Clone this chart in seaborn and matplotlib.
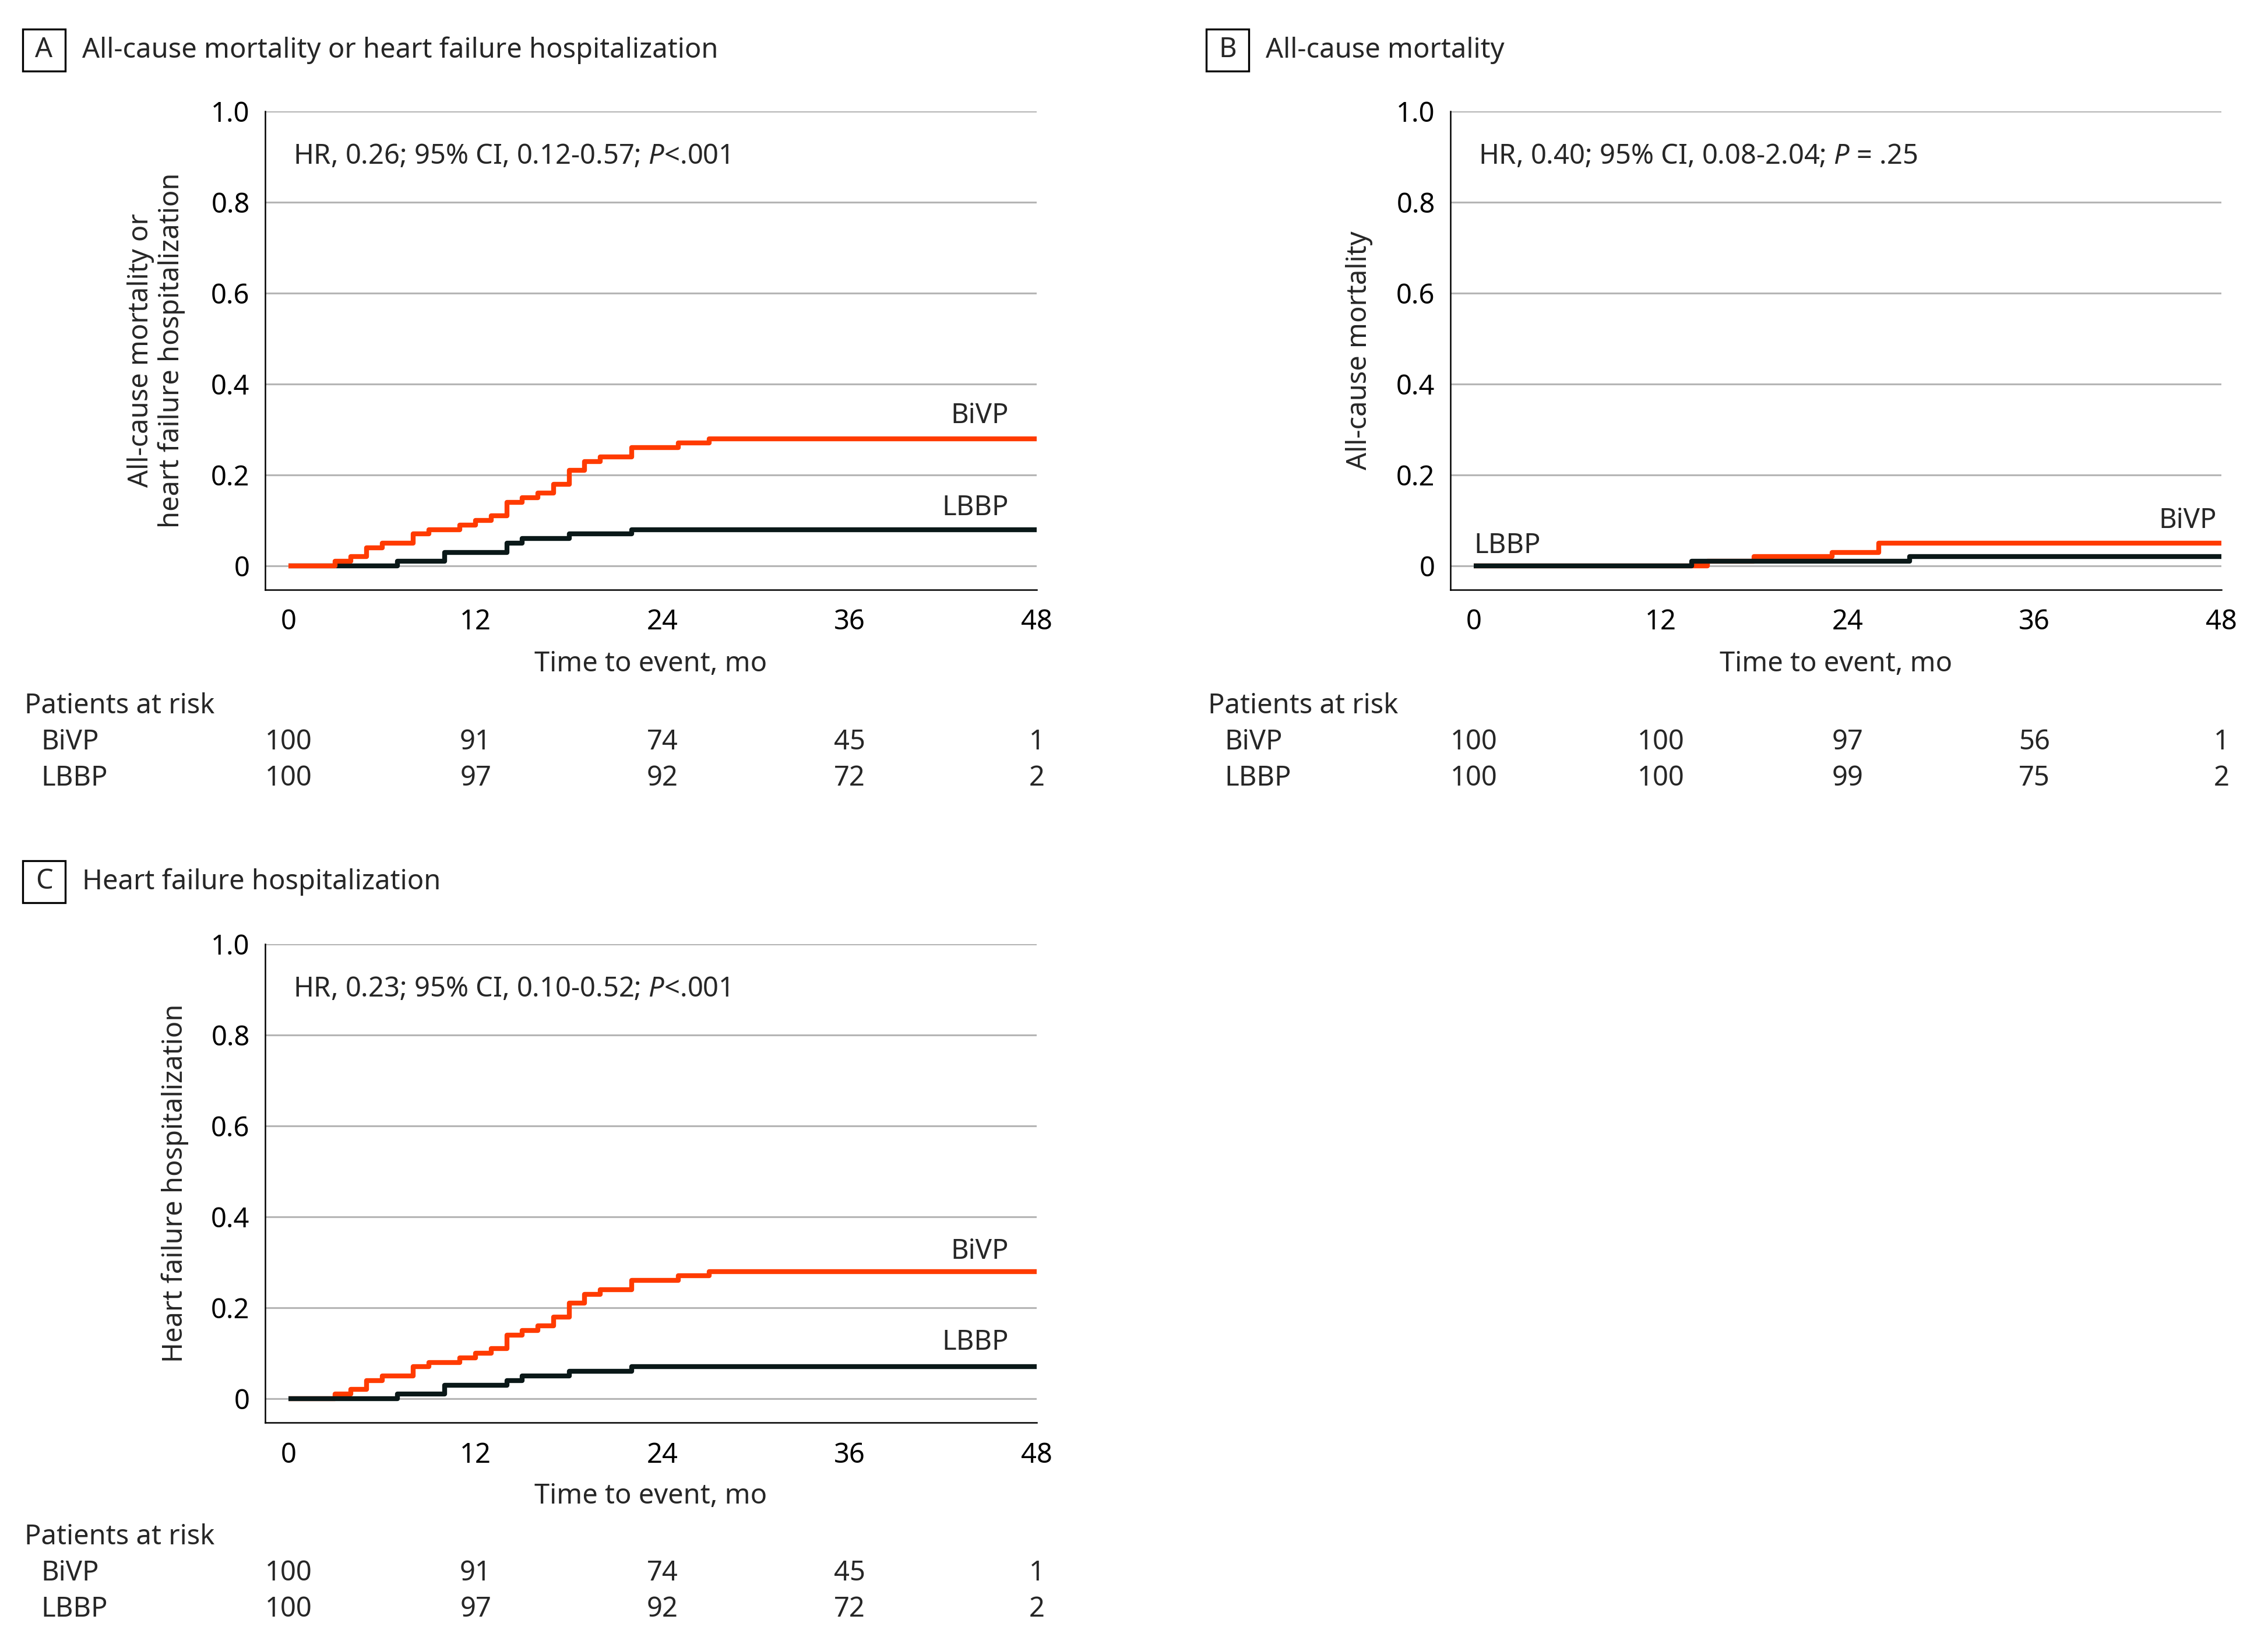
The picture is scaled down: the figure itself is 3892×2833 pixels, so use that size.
import matplotlib
matplotlib.use("Agg")
import matplotlib.pyplot as plt
import matplotlib.patches as mpatches
import matplotlib.transforms as mtransforms
import seaborn as sns

# ---- data ----
month_ticks = [0, 12, 24, 36, 48]
y_ticks = [0, 0.2, 0.4, 0.6, 0.8, 1.0]
y_tick_labels = ["0", "0.2", "0.4", "0.6", "0.8", "1.0"]

# A: all-cause mortality or HF hospitalization
a_bivp_t = [0, 3, 4, 5, 6, 8, 9, 11, 12, 13, 14, 15, 16, 17, 18, 19, 20, 22, 25, 27, 48]
a_bivp_y = [0, 0.01, 0.02, 0.04, 0.05, 0.07, 0.08, 0.09, 0.10, 0.11, 0.14, 0.15,
            0.16, 0.18, 0.21, 0.23, 0.24, 0.26, 0.27, 0.28, 0.28]
a_lbbp_t = [0, 7, 10, 14, 15, 18, 22, 48]
a_lbbp_y = [0, 0.01, 0.03, 0.05, 0.06, 0.07, 0.08, 0.08]

# B: all-cause mortality
b_bivp_t = [0, 15, 18, 23, 26, 48]
b_bivp_y = [0, 0.01, 0.02, 0.03, 0.05, 0.05]
b_lbbp_t = [0, 14, 28, 48]
b_lbbp_y = [0, 0.01, 0.02, 0.02]

# C: HF hospitalization
c_bivp_t = [0, 3, 4, 5, 6, 8, 9, 11, 12, 13, 14, 15, 16, 17, 18, 19, 20, 22, 25, 27, 48]
c_bivp_y = [0, 0.01, 0.02, 0.04, 0.05, 0.07, 0.08, 0.09, 0.10, 0.11, 0.14, 0.15,
            0.16, 0.18, 0.21, 0.23, 0.24, 0.26, 0.27, 0.28, 0.28]
c_lbbp_t = [0, 7, 10, 14, 15, 18, 22, 48]
c_lbbp_y = [0, 0.01, 0.03, 0.04, 0.05, 0.06, 0.07, 0.07]

# patients at risk at 0, 12, 24, 36, 48 months
a_risk_bivp = [100, 91, 74, 45, 1]
a_risk_lbbp = [100, 97, 92, 72, 2]
b_risk_bivp = [100, 100, 97, 56, 1]
b_risk_lbbp = [100, 100, 99, 75, 2]
c_risk_bivp = [100, 91, 74, 45, 1]
c_risk_lbbp = [100, 97, 92, 72, 2]

# ---- style ----
W, H, DPI = 3892, 2833, 300
ORANGE = "#ff3b00"
DARK = "#0a1818"
GRID = "#b5b5b5"
FS = 11.3

sns.set_style("white")
plt.rcParams["font.family"] = ["Noto Sans", "DejaVu Sans"]
plt.rcParams["mathtext.fontset"] = "custom"
plt.rcParams["mathtext.rm"] = "Noto Sans"
plt.rcParams["mathtext.it"] = "Noto Sans:italic"

fig = plt.figure(figsize=(W / DPI, H / DPI), dpi=DPI)
fig.patch.set_facecolor("white")


def fig_text(x_px, y_px, s, **kw):
    """Place text on the figure using full-size pixel coordinates."""
    kw.setdefault("fontsize", FS)
    return fig.text(x_px / W, 1 - y_px / H, s, **kw)


def add_panel(rect_px, letter, title, title_px, ylabel, ylabel_x,
              hr_text, bivp, lbbp, black_on_top, bivp_lab, lbbp_lab,
              risk_bivp, risk_lbbp, risk_y):
    left, top, right, bottom = rect_px
    ax = fig.add_axes([left / W, 1 - bottom / H, (right - left) / W, (bottom - top) / H])

    z_b, z_l = (2, 3) if black_on_top else (3, 2)
    sns.lineplot(x=bivp[0], y=bivp[1], ax=ax, color=ORANGE, lw=2.0,
                 drawstyle="steps-post", estimator=None, zorder=z_b,
                 solid_capstyle="butt")
    sns.lineplot(x=lbbp[0], y=lbbp[1], ax=ax, color=DARK, lw=2.0,
                 drawstyle="steps-post", estimator=None, zorder=z_l,
                 solid_capstyle="butt")

    ax.set_xlim(-1.5, 48)
    ax.set_ylim(-0.0526, 1.0)
    ax.set_xticks(month_ticks)
    ax.set_xticklabels([str(m) for m in month_ticks])
    ax.set_yticks(y_ticks)
    ax.set_yticklabels(y_tick_labels)
    ax.set_xlabel("")
    ax.set_ylabel("")
    ax.set_axisbelow(True)
    ax.yaxis.grid(True, color=GRID, lw=0.75)
    ax.xaxis.grid(False)
    for side in ["top", "right"]:
        ax.spines[side].set_visible(False)
    for side in ["left", "bottom"]:
        ax.spines[side].set_color("black")
        ax.spines[side].set_linewidth(0.6)
    ax.tick_params(axis="both", direction="out", length=3.8, width=0.6,
                   color="black", labelsize=FS, labelcolor="black")
    ax.tick_params(axis="x", pad=4.0)
    ax.tick_params(axis="y", pad=2.5)

    # hazard ratio note
    ax.text(0.3, 0.90, hr_text, fontsize=FS, ha="left", va="center")
    # curve labels
    ax.text(bivp_lab[0], bivp_lab[1], "BiVP", fontsize=FS, ha=bivp_lab[2], va="center")
    ax.text(lbbp_lab[0], lbbp_lab[1], "LBBP", fontsize=FS, ha=lbbp_lab[2], va="center")

    # axis labels
    mid_y = (top + bottom) / 2
    fig_text(ylabel_x, mid_y, ylabel, rotation=90, ha="center", va="center",
             multialignment="center", linespacing=1.15)
    fig_text((left + right) / 2, bottom + 127, "Time to event, mo",
             ha="center", va="center")

    # panel letter box and title
    tx, ty = title_px
    bx = tx - 102
    fig.patches.append(mpatches.Rectangle(
        (bx / W, 1 - (ty + 36) / H), 73 / W, 72 / H, transform=fig.transFigure,
        fill=False, ec="black", lw=0.8))
    fig_text(bx + 36.5, ty, letter, ha="center", va="center", fontweight="bold")
    fig_text(tx, ty, title, ha="left", va="center")

    # patients at risk table
    trans = mtransforms.blended_transform_factory(ax.transData, fig.transFigure)
    r0, r1, r2 = risk_y
    fig_text(tx - 99, r0, "Patients at risk", ha="left", va="center")
    fig_text(tx - 71, r1, "BiVP", ha="left", va="center")
    fig_text(tx - 71, r2, "LBBP", ha="left", va="center")
    for m, nb, nl in zip(month_ticks, risk_bivp, risk_lbbp):
        ax.text(m, 1 - r1 / H, str(nb), transform=trans, fontsize=FS,
                ha="center", va="center", clip_on=False)
        ax.text(m, 1 - r2 / H, str(nl), transform=trans, fontsize=FS,
                ha="center", va="center", clip_on=False)
    return ax


add_panel((455, 191, 1779, 1012), "A",
          "All-cause mortality or heart failure hospitalization", (141, 86),
          "All-cause mortality or\nheart failure hospitalization", 268,
          r"HR, 0.26; 95% CI, 0.12-0.57; $\mathit{P}$<.001",
          (a_bivp_t, a_bivp_y), (a_lbbp_t, a_lbbp_y), False,
          (46.2, 0.33, "right"), (46.2, 0.128, "right"),
          a_risk_bivp, a_risk_lbbp, (1211, 1273, 1335))

add_panel((2489, 191, 3812, 1012), "B",
          "All-cause mortality", (2172, 86),
          "All-cause mortality", 2333,
          r"HR, 0.40; 95% CI, 0.08-2.04; $\mathit{P}$ = .25",
          (b_bivp_t, b_bivp_y), (b_lbbp_t, b_lbbp_y), True,
          (47.7, 0.099, "right"), (0.0, 0.044, "left"),
          b_risk_bivp, b_risk_lbbp, (1211, 1273, 1335))

add_panel((455, 1620, 1779, 2441), "C",
          "Heart failure hospitalization", (141, 1513),
          "Heart failure hospitalization", 300,
          r"HR, 0.23; 95% CI, 0.10-0.52; $\mathit{P}$<.001",
          (c_bivp_t, c_bivp_y), (c_lbbp_t, c_lbbp_y), True,
          (46.2, 0.324, "right"), (46.2, 0.124, "right"),
          c_risk_bivp, c_risk_lbbp, (2638, 2700, 2762))

fig.savefig("out.png", dpi=DPI, facecolor="white")
